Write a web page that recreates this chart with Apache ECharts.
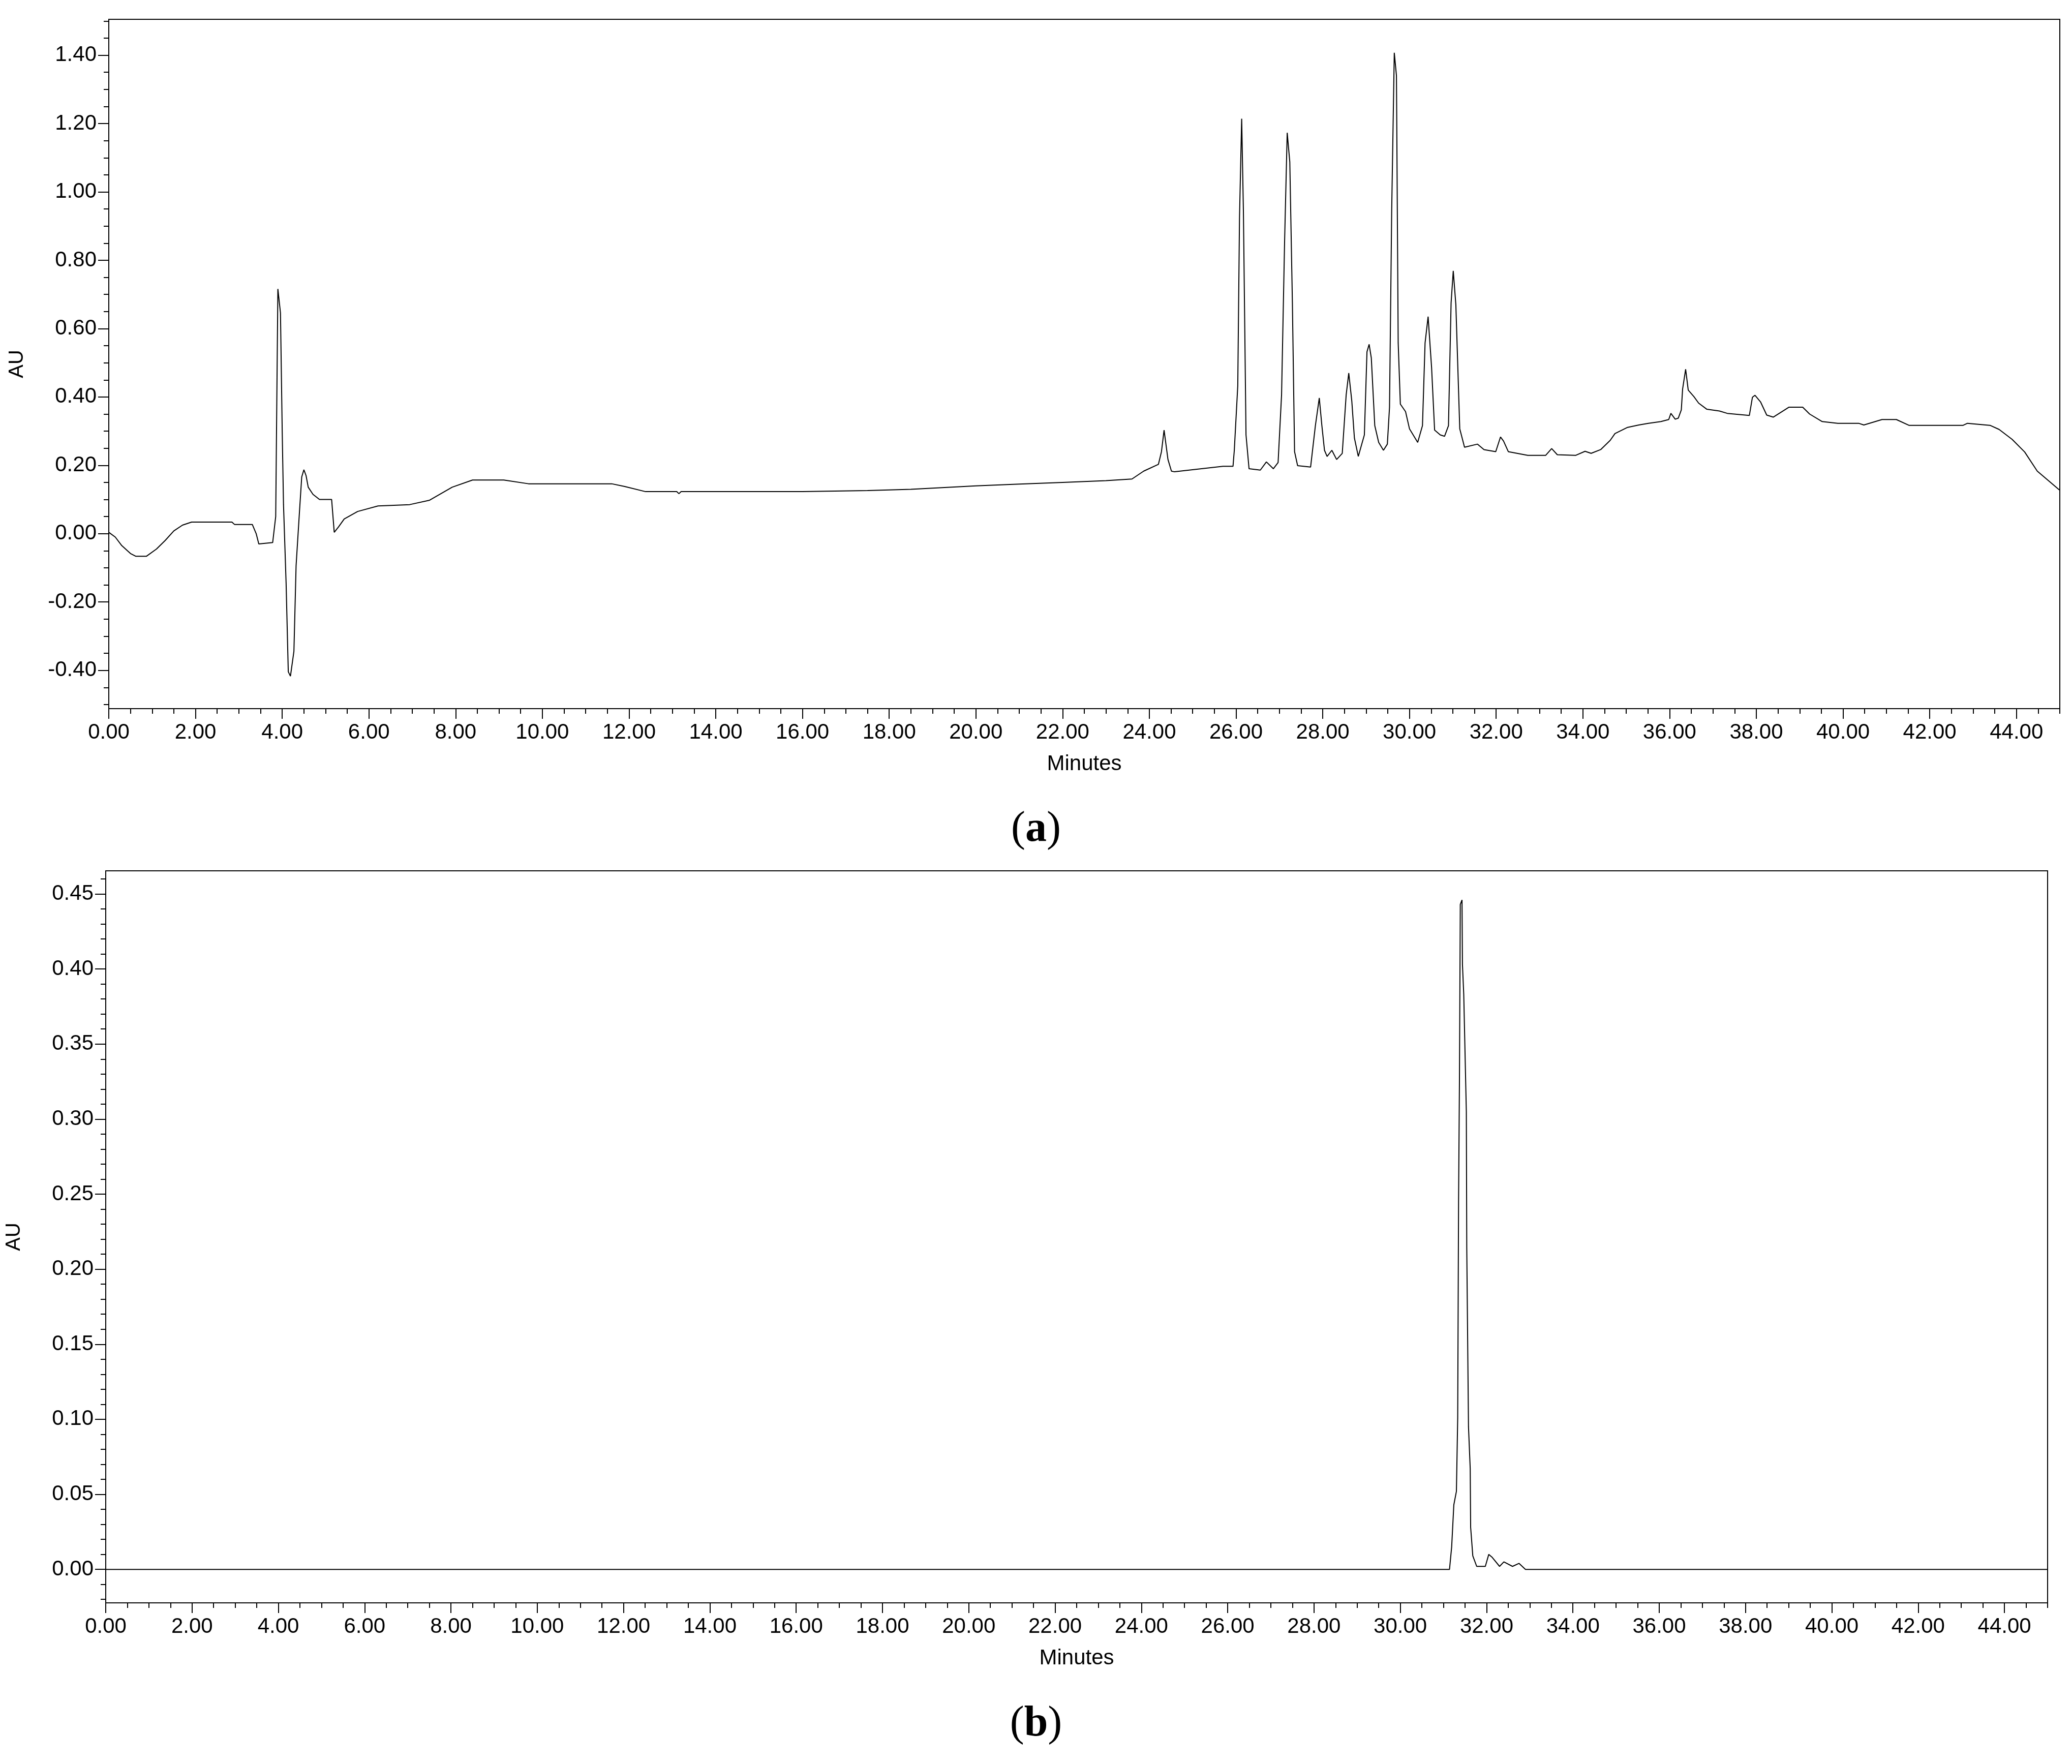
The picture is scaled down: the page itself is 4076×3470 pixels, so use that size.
<!DOCTYPE html>
<html><head><meta charset="utf-8">
<script src="https://cdn.jsdelivr.net/npm/echarts@6/dist/echarts.min.js"></script>
<style>html,body{margin:0;padding:0;background:#fff}#c{width:4076px;height:3470px}</style>
</head><body><div id="c"></div>
<script>
// Chromatogram (a)
const timeA = [0,0.15,0.3,0.5,0.62,0.87,1.1,1.3,1.5,1.7,1.91,2.84,2.9,3.31,3.4,3.46,3.78,3.85,3.9,3.96,4.0,4.03,4.09,4.14,4.19,4.27,4.32,4.4,4.45,4.5,4.55,4.6,4.71,4.86,5.14,5.2,5.3,5.43,5.74,6.21,6.94,7.4,7.92,8.39,9.11,9.68,11.6,11.9,12.38,13.1,13.15,13.2,16,17.5,18.5,20,21,22,23,23.6,
23.87,24.21,24.28,24.34,24.43,24.51,24.58,25.7,25.93,25.96,26.04,26.08,26.13,26.17,26.23,26.3,26.56,26.7,26.86,26.97,27.05,27.12,27.18,27.24,27.3,27.35,27.42,27.72,27.83,27.92,27.98,28.04,28.1,28.21,28.32,28.45,28.54,28.6,28.67,28.73,28.82,28.96,29.02,29.07,29.12,29.2,29.29,29.4,29.49,29.54,29.59,29.65,29.7,29.74,29.79,29.91,30.0,30.19,30.3,30.36,30.43,30.51,30.58,30.71,30.81,30.9,30.96,31.01,31.07,31.16,31.27,31.57,31.72,31.99,32.1,32.17,32.28,32.73,33.14,33.28,33.41,
33.83,34.05,34.19,34.41,34.63,34.74,35.03,35.29,35.51,35.8,35.98,36.03,36.13,36.2,36.27,36.3,36.37,36.43,36.56,36.67,36.86,37.15,37.33,37.84,37.91,37.97,38.1,38.24,38.39,38.64,38.75,39.07,39.23,39.52,39.88,40.36,40.48,40.9,41.23,41.52,42.77,42.87,43.39,43.6,43.9,44.19,44.48,44.99];
const auA = [0.004,-0.01,-0.035,-0.058,-0.066,-0.066,-0.045,-0.02,0.008,0.025,0.034,0.034,0.027,0.027,0.0,-0.03,-0.026,0.05,0.716,0.646,0.3,0.085,-0.145,-0.404,-0.417,-0.344,-0.094,0.068,0.166,0.187,0.17,0.136,0.115,0.1,0.1,0.004,0.02,0.043,0.065,0.081,0.085,0.098,0.136,0.157,0.157,0.146,0.146,0.138,0.123,0.123,0.117,0.123,0.123,0.126,0.13,0.14,0.145,0.15,0.155,0.16,
0.183,0.203,0.240,0.303,0.217,0.183,0.181,0.197,0.197,0.244,0.433,0.926,1.214,0.944,0.289,0.190,0.186,0.210,0.190,0.208,0.406,0.855,1.173,1.088,0.675,0.240,0.199,0.195,0.316,0.397,0.316,0.244,0.226,0.244,0.217,0.235,0.406,0.470,0.388,0.280,0.226,0.289,0.532,0.554,0.514,0.316,0.267,0.244,0.262,0.370,0.944,1.407,1.340,0.558,0.379,0.357,0.307,0.267,0.316,0.558,0.635,0.487,0.303,0.289,0.285,0.316,0.675,0.769,0.670,0.307,0.253,0.262,0.246,0.240,0.283,0.271,0.240,0.229,0.229,0.249,0.231,
0.229,0.241,0.235,0.246,0.273,0.293,0.311,0.318,0.323,0.328,0.334,0.352,0.335,0.338,0.362,0.423,0.481,0.42,0.401,0.382,0.364,0.359,0.352,0.346,0.399,0.405,0.385,0.347,0.341,0.361,0.37,0.37,0.35,0.328,0.323,0.323,0.318,0.334,0.334,0.317,0.317,0.323,0.317,0.305,0.276,0.239,0.183,0.128];
// Chromatogram (b)
const timeB = [0,31.14,31.15,31.19,31.24,31.3,31.33,31.35,31.37,31.39,31.43,31.44,31.47,31.53,31.54,31.58,31.62,31.63,31.68,31.77,31.97,32.05,32.13,32.3,32.4,32.6,32.75,32.9,45];
const auB = [0,0,0.003,0.015,0.043,0.052,0.101,0.245,0.324,0.443,0.446,0.403,0.383,0.305,0.214,0.095,0.067,0.028,0.009,0.002,0.002,0.01,0.008,0.002,0.005,0.002,0.004,0,0];
const xMajorTicks = [0,2,4,6,8,10,12,14,16,18,20,22,24,26,28,30,32,34,36,38,40,42,44];
const yMajorA = [-0.4,-0.2,0,0.2,0.4,0.6,0.8,1.0,1.2,1.4];
const yMajorB = [0,0.05,0.1,0.15,0.2,0.25,0.3,0.35,0.4,0.45];

const FONT = 'Liberation Sans';
const ch = echarts.init(document.getElementById('c'), null, {renderer:'canvas'});
const range = (a,b,s)=>{const r=[];for(let i=0;a+i*s<=b+1e-9;i++)r.push(+(a+i*s).toFixed(4));return r;};
const blk = '#000';
function xAxes(gi){
  return [
    {gridIndex:gi,type:'value',min:0,max:45,position:'bottom',
     axisLine:{show:true,onZero:false,lineStyle:{color:blk,width:2}},
     axisTick:{show:true,customValues:xMajorTicks,length:20,lineStyle:{color:blk,width:2}},
     axisLabel:{show:true,customValues:xMajorTicks,formatter:v=>v.toFixed(2),fontFamily:FONT,fontSize:42,color:blk,margin:26},
     splitLine:{show:false},
     name:'Minutes',nameLocation:'middle',nameGap:88,nameTextStyle:{fontFamily:FONT,fontSize:42,color:blk}},
    {gridIndex:gi,type:'value',min:0,max:45,position:'bottom',
     axisLine:{show:false,onZero:false},
     axisTick:{show:true,customValues:range(0,45,0.5),length:10,lineStyle:{color:blk,width:2}},
     axisLabel:{show:false},splitLine:{show:false}}
  ];
}
function yAxes(gi,min,max,major,minorStep,minorFrom,minorTo){
  return [
    {gridIndex:gi,type:'value',min:min,max:max,position:'left',
     axisLine:{show:true,onZero:false,lineStyle:{color:blk,width:2}},
     axisTick:{show:true,customValues:major,length:21,lineStyle:{color:blk,width:2}},
     axisLabel:{show:true,customValues:major,formatter:v=>v.toFixed(2),fontFamily:FONT,fontSize:42,color:blk,margin:24},
     splitLine:{show:false},
     name:'AU',nameLocation:'middle',nameGap:160,nameRotate:90,nameTextStyle:{fontFamily:FONT,fontSize:40,color:blk}},
    {gridIndex:gi,type:'value',min:min,max:max,position:'left',
     axisLine:{show:false,onZero:false},
     axisTick:{show:true,customValues:range(minorFrom,minorTo,minorStep),length:10,lineStyle:{color:blk,width:2}},
     axisLabel:{show:false},splitLine:{show:false}}
  ];
}
const dataA = timeA.map((t,i)=>[t,auA[i]]);
const dataB = timeB.map((t,i)=>[t,auB[i]]);
ch.setOption({
  animation:false,
  backgroundColor:'#fff',
  grid:[
    {left:214,right:24,top:38,height:1356,show:true,borderColor:blk,borderWidth:2,containLabel:false},
    {left:195,right:48,top:1713,height:1440,show:true,borderColor:blk,borderWidth:2,containLabel:false}
  ],
  xAxis:[...xAxes(0),...xAxes(1)],
  yAxis:[...yAxes(0,-0.512,1.505,yMajorA,0.05,-0.5,1.5),...yAxes(1,-0.0223,0.4654,yMajorB,0.01,-0.02,0.46)],
  series:[
    {type:'line',xAxisIndex:0,yAxisIndex:0,data:dataA,showSymbol:false,lineStyle:{color:blk,width:2},silent:true},
    {type:'line',xAxisIndex:2,yAxisIndex:2,data:dataB,showSymbol:false,lineStyle:{color:blk,width:2},silent:true}
  ],
  graphic:[
    {type:'text',left:'center',top:1590,style:{text:'{p|(}{b|a}{p|)}',rich:{p:{fontFamily:'Liberation Serif',fontSize:84,fill:blk},b:{fontFamily:'Liberation Serif',fontWeight:'bold',fontSize:84,fill:blk}}}},
    {type:'text',left:'center',top:3350,style:{text:'{p|(}{b|b}{p|)}',rich:{p:{fontFamily:'Liberation Serif',fontSize:84,fill:blk},b:{fontFamily:'Liberation Serif',fontWeight:'bold',fontSize:84,fill:blk}}}}
  ]
});
</script></body></html>
